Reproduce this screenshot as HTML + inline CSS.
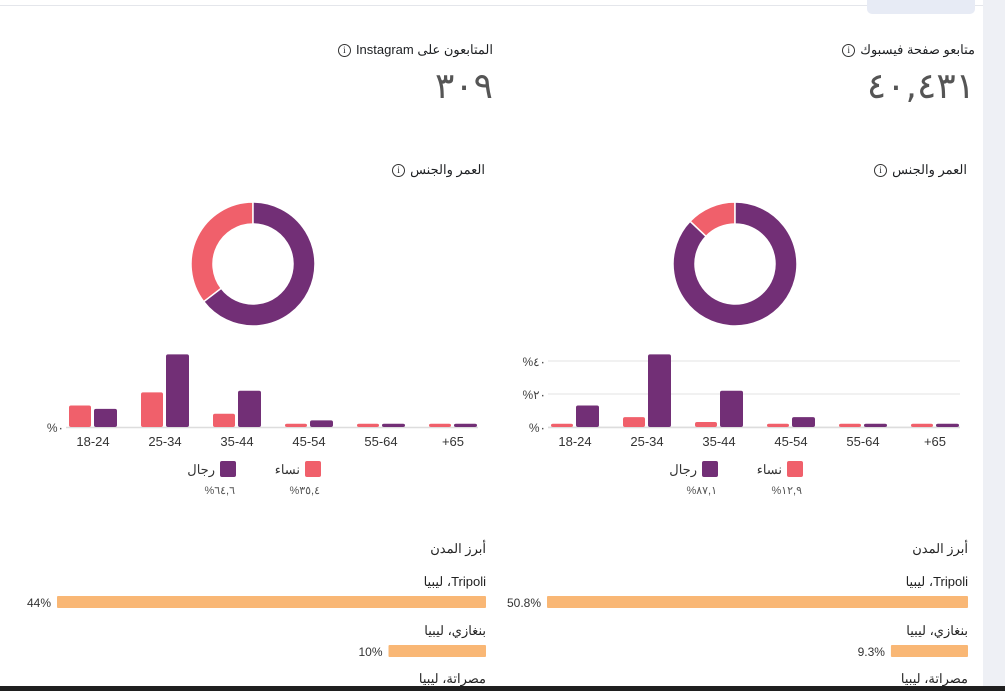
<!DOCTYPE html>
<html><head><meta charset="utf-8">
<style>
body{margin:0;width:1005px;height:691px;overflow:hidden;background:#fff;font-family:"Liberation Sans","Noto Sans CJK SC",sans-serif;position:relative;color:#1c1e21}
.abs{position:absolute}
.t{font-size:13px;direction:rtl;white-space:nowrap}
.info{display:inline-block;width:11px;height:11px;border:1.3px solid #333;border-radius:50%;font-size:9px;line-height:11px;text-align:center;direction:ltr;margin-right:5px;vertical-align:middle;font-family:"Liberation Serif",serif}
.big{font-size:36px;font-weight:normal;color:#555;direction:rtl;font-family:"DejaVu Sans","Noto Sans CJK SC",sans-serif;letter-spacing:-1px}
</style></head><body>
<div class="abs" style="left:0;top:5px;width:983px;height:1px;background:#e4e6eb"></div>
<div class="abs" style="left:867px;top:0;width:108px;height:14px;background:#e7ebf5;border-radius:0 0 5px 5px"></div>
<div class="abs" style="left:983px;top:0;width:22px;height:686px;background:#eef0f5"></div>
<div class="abs t" style="right:30px;top:42px"><span>متابعو صفحة فيسبوك</span><span class="info">i</span></div>
<div class="abs big" style="right:30px;top:66px">٤٠,٤٣١</div>
<div class="abs t" style="right:512px;top:42px"><span>المتابعون على Instagram</span><span class="info">i</span></div>
<div class="abs big" style="right:512px;top:66px">٣٠٩</div>
<div class="abs t" style="right:38px;top:162px"><span>العمر والجنس</span><span class="info">i</span></div>
<div class="abs t" style="right:520px;top:162px"><span>العمر والجنس</span><span class="info">i</span></div>
<svg class="abs" id="chart" style="left:0;top:0" width="1005" height="691"></svg>
<div class="abs" style="left:0;top:686px;width:1005px;height:5px;background:#1f1f1f"></div>
<script>
const categories=["18-24","25-34","35-44","45-54","55-64","+65"];
const fbWomen=[2,6,3,2,2,2];
const fbMen=[13,44,22,6,2,2];
const igWomen=[13,21,8,2,2,2];
const igMen=[11,44,22,4,2,2];
const fbShare=[12.9,87.1];
const igShare=[35.4,64.6];
const fbShareLabels=["%١٢,٩","%٨٧,١"];
const igShareLabels=["%٣٥,٤","%٦٤,٦"];
const yTicks=[0,20,40];
const yTickLabels=["%٠","%٢٠","%٤٠"];
const cities=["Tripoli، ليبيا","بنغازي، ليبيا","مصراتة، ليبيا"];
const fbCity=[50.8,9.3];
const igCity=[44,10];
const fbCityLabels=["50.8%","9.3%"];
const igCityLabels=["44%","10%"];
const svg=document.getElementById('chart');
const NS='http://www.w3.org/2000/svg';
const PINK='#f0606b',PURP='#722f76',ORANGE='#f9b775';
function mk(tag,attrs,txt){const e=document.createElementNS(NS,tag);for(const k in attrs)e.setAttribute(k,attrs[k]);if(txt!==undefined)e.textContent=txt;svg.appendChild(e);return e;}
function panel(p,x0,cx,women,men,share,shareLabels,grid,cityVals,cityLabels,cityLeft){
 const base=427,perPct=33/20,band=72;
 const y=v=>base-v*perPct;
 const axEnd=x0+412;
 if(grid){yTicks.forEach((t,i)=>{const g=mk('line',{x1:x0,x2:axEnd,y1:y(t),y2:y(t),stroke:'#e3e3e3','stroke-width':1});
 const l=mk('text',{x:x0-2,y:y(t)+5,'text-anchor':'end','font-size':12,fill:'#444'},yTickLabels[i]);});}
 else{const l=mk('text',{x:x0-2,y:base+5,'text-anchor':'end','font-size':12,fill:'#444'},yTickLabels[0]);}
 const ax=mk('line',{x1:x0,x2:axEnd,y1:base+0.5,y2:base+0.5,stroke:'#ddd','stroke-width':1.5});
 categories.forEach((c,i)=>{const bx=x0+i*band+3;
  const w=mk('rect',{x:bx,y:y(women[i]),width:22,height:women[i]*perPct,rx:2,fill:PINK});
  const m=mk('rect',{x:bx+25,y:y(men[i]),width:23,height:men[i]*perPct,rx:2,fill:PURP});
  const t=mk('text',{x:bx+24,y:base+19,'text-anchor':'middle','font-size':13,fill:'#333'},c);});
 const cy=264,R=62,r=40;
 const cols=[PINK,PURP];
 const tot=share[0]+share[1];
 const arcs=[[-share[0]/tot*360,0],[0,share[1]/tot*360]];
 arcs.forEach((ar,i)=>{const s=ar[0],e=ar[1];const rad=d=>(d-90)*Math.PI/180;
  const P=(rr,d)=>[cx+rr*Math.cos(rad(d)),cy+rr*Math.sin(rad(d))];
  const big=(e-s)>180?1:0;const a=P(R,s),b=P(R,e),c=P(r,e),d=P(r,s);
  const path=mk('path',{d:`M${a} A${R},${R} 0 ${big} 1 ${b} L${c} A${r},${r} 0 ${big} 0 ${d}Z`,fill:cols[i],stroke:'#fff','stroke-width':1.5});
  });
 const lx=cx+52;
 const r1=mk('rect',{x:lx,y:461,width:16,height:16,rx:2,fill:PINK});
 const r2=mk('rect',{x:lx-85,y:461,width:16,height:16,rx:2,fill:PURP});
 [[lx-5,'نساء',shareLabels[0]],[lx-90,'رجال',shareLabels[1]]].forEach(q=>{
  const a=mk('text',{x:q[0],y:474,'text-anchor':'end','font-size':13,fill:'#333'},q[1]);
  const b=mk('text',{x:q[0]+20,y:494,'text-anchor':'end','font-size':11,fill:'#555'},q[2]);});
 const right=x0+420,full=right-cityLeft;
 const h=mk('text',{x:right,y:553,'text-anchor':'start','font-size':13,fill:'#222',direction:'rtl'},'أبرز المدن');
 const rows=[586,635,683];
 cities.forEach((c,i)=>{const t=mk('text',{x:right,y:rows[i],'text-anchor':'start','font-size':13,fill:'#222',direction:'rtl'},c);
  if(i<cityVals.length){const w=full*cityVals[i]/cityVals[0];
   const b=mk('rect',{x:right-w,y:rows[i]+10,width:w,height:12,rx:1,fill:ORANGE});
   const l=mk('text',{x:right-w-6,y:rows[i]+21,'text-anchor':'end','font-size':12,fill:'#333'},cityLabels[i]);}});
}
panel('fb',548,735,fbWomen,fbMen,fbShare,fbShareLabels,true,fbCity,fbCityLabels,547);
panel('ig',66,253,igWomen,igMen,igShare,igShareLabels,false,igCity,igCityLabels,57);
</script>
</body></html>
